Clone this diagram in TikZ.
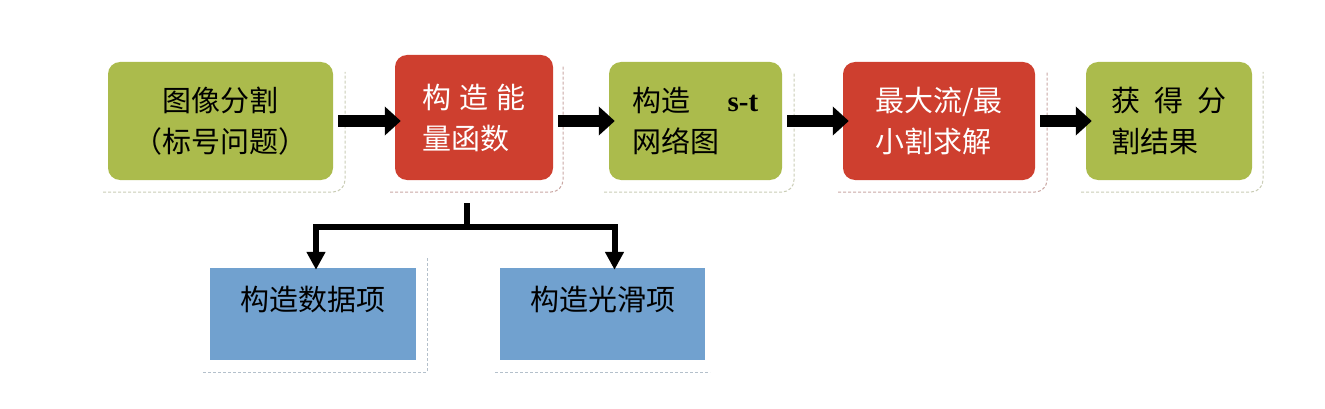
\documentclass[tikz,border=0pt]{standalone}
\usepackage{fontspec}
\setmainfont{Noto Sans CJK SC}
\newfontfamily\latinbold{Liberation Serif}
\usetikzlibrary{arrows.meta}
\definecolor{boxgreen}{RGB}{171,187,76}
\definecolor{boxred}{RGB}{206,63,47}
\definecolor{boxblue}{RGB}{113,161,207}

\begin{document}
\begin{tikzpicture}[x=1pt,y=-1pt,
  flowbox/.style={rounded corners=12pt, align=left, inner sep=0pt,
    font=\fontsize{29}{41}\selectfont},
  greenbox/.style={flowbox, fill=boxgreen, text=black},
  redbox/.style={flowbox, fill=boxred, text=white},
  termbox/.style={fill=boxblue, inner sep=0pt, text height=23pt, text depth=31pt,
    font=\fontsize{29}{41}\selectfont},
  frame/.style={densely dashed, line width=1pt, rounded corners=12pt},
  bigarrow/.style={line width=12pt, -{Triangle[width=28pt,length=16pt]},
    shorten <=5pt, shorten >=-6pt},
  branch/.style={line width=6pt, line join=miter},
  downarrow/.style={branch, -{Triangle[width=18pt,length=18pt]}, shorten >=-2pt}]

  \useasboundingbox (0,0) rectangle (1325,409);

  % Draw the frames behind the boxes
  \draw[frame, draw=boxgreen!60!black!35] (103,192) -| (345,72);
  \draw[frame, draw=boxred!60!black!40] (390,192) -| (563,66);
  \draw[frame, draw=boxgreen!60!black!35] (604,192) -| (794,72);
  \draw[frame, draw=boxred!60!black!40] (838,192) -| (1047,72);
  \draw[frame, draw=boxgreen!60!black!35] (1081,192) -| (1263,72);
  \draw[frame, rounded corners=0pt, draw=boxblue!60!black!40] (203,372) -| (427,258);
  \draw[frame, rounded corners=0pt, draw=boxblue!60!black!40] (495,372) -- (710,372);

  % Draw the steps
  \node[greenbox, align=center, minimum width=225pt, minimum height=118pt] (seg) at (220.5,121)
    {图像分割\\（标号问题）};
  \node[redbox, minimum width=158pt, minimum height=125pt] (energy) at (474,117.5)
    {构\hspace{8pt}造\hspace{8pt}能\\量函数};
  \node[greenbox, minimum width=173pt, minimum height=118pt] (graph) at (695.5,121)
    {构造\hspace{37pt}{\latinbold\bfseries s-t}\\网络图};
  \node[redbox, minimum width=192pt, minimum height=118pt] (cut) at (939,121)
    {最大流/最\\小割求解};
  \node[greenbox, minimum width=166pt, minimum height=118pt] (result) at (1169,121)
    {获\hspace{14pt}得\hspace{14pt}分\\割结果};

  \node[termbox, minimum width=206pt, minimum height=92pt] (data) at (313,314) {构造数据项};
  \node[termbox, minimum width=205pt, minimum height=92pt] (smooth) at (602.5,314) {构造光滑项};

  % Draw the arrows between the steps
  \draw[bigarrow] (seg.east) -- (seg.east -| energy.west);
  \draw[bigarrow] (energy.east |- graph.west) -- (graph.west);
  \draw[bigarrow] (graph.east) -- (cut.west);
  \draw[bigarrow] (cut.east) -- (result.west);

  % Split into the two terms
  \coordinate (split) at (467,227);
  \draw[branch, shorten <=23pt] (energy.south -| split) -- (split);
  \draw[downarrow] (split) -| ([xshift=3pt]data.north);
  \draw[downarrow] (split) -| ([xshift=12pt]smooth.north);

\end{tikzpicture}
\end{document}
